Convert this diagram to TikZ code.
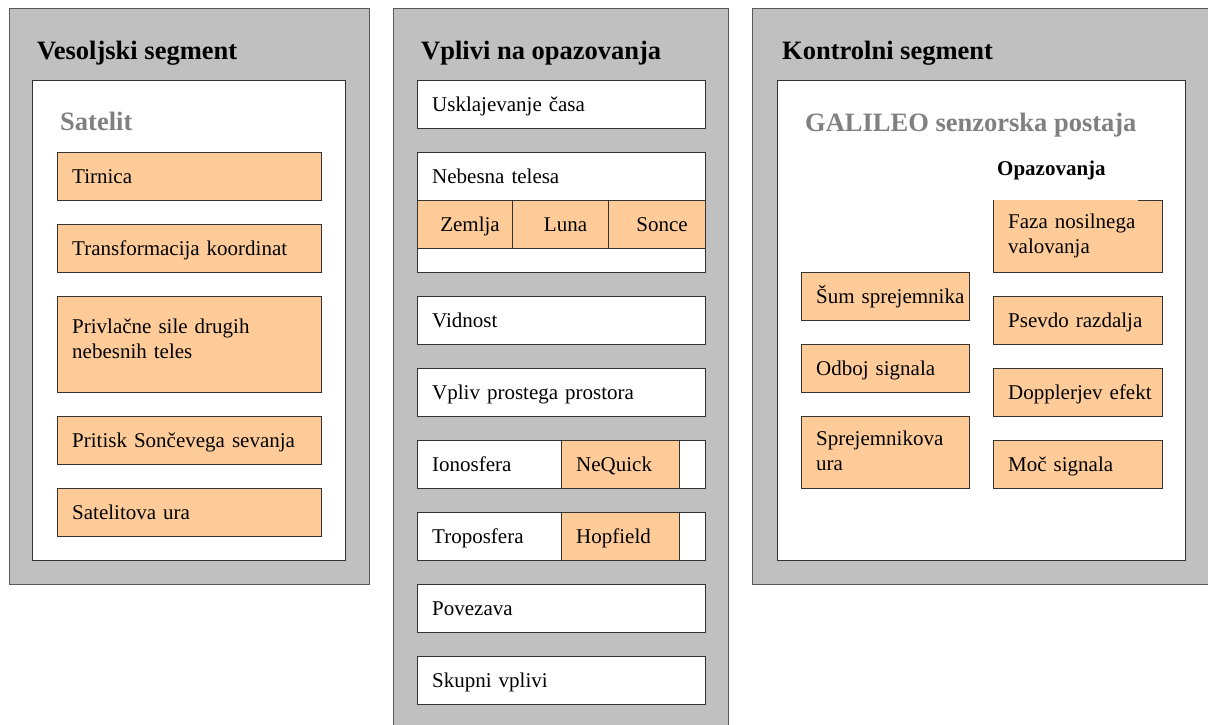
\documentclass[tikz,border=0pt]{standalone}
\usepackage{fontspec}
\setmainfont{Liberation Serif}
\usetikzlibrary{calc}
\definecolor{panelgray}{HTML}{C0C0C0}
\definecolor{boxorange}{HTML}{FFCC99}
\definecolor{satgray}{HTML}{808080}
\tikzset{
 panel/.style={draw=black!65, fill=panelgray, line width=1pt},
 whitebox/.style={draw=black!80, fill=white, line width=1pt},
 orangebox/.style={draw=black!80, fill=boxorange, line width=1pt},
 fazabox/.style={fill=boxorange},
 edge/.style={draw=black!80, line width=1pt},
 txt/.style={inner sep=0pt, font=\fontsize{21}{25}\selectfont, align=left, text width=300pt, anchor=base west},
 ctxt/.style={inner sep=0pt, font=\fontsize{21}{25}\selectfont, anchor=base},
 title/.style={inner sep=0pt, font=\fontsize{26.5}{30}\selectfont\bfseries, anchor=base west},
}
\newcommand\bx[6]{\node[#6, anchor=north west, minimum width=#4pt, minimum height=#5pt, inner sep=0pt] (#1) at (#2,#3) {};}
\newcommand\lbl[2]{\node[txt] (#1-t) at ($(#1.west)+(15,7)$) {#2};}
\newcommand\clbl[2]{\node[ctxt] (#1-t) at ($(#1.center)+(5,7)$) {#2};}
\begin{document}
\begin{tikzpicture}[x=1pt,y=-1pt]
\useasboundingbox (0,0) rectangle (1208,724);
\clip (0,0) rectangle (1208,724);
\fill[white] (0,0) rectangle (1208,724);

% left panel
\bx{lp}{9}{8}{360}{576}{panel}
\node[title] (lpt) at (37,59) {Vesoljski segment};
\bx{lw}{32}{80}{313}{480}{whitebox}
\node[title, text=satgray] (sat) at (60,130) {Satelit};
\bx{tir}{57}{152}{264}{48}{orangebox} \lbl{tir}{Tirnica}
\bx{tra}{57}{224}{264}{48}{orangebox} \lbl{tra}{Transformacija koordinat}
\bx{pri}{57}{296}{264}{96}{orangebox}
\node[txt] (pri-t) at (72,333) {Privlačne sile drugih\\nebesnih teles};
\bx{pss}{57}{416}{264}{48}{orangebox} \lbl{pss}{Pritisk Sončevega sevanja}
\bx{sur}{57}{488}{264}{48}{orangebox} \lbl{sur}{Satelitova ura}

% middle panel
\bx{mp}{393}{8}{335}{740}{panel}
\node[title] (mpt) at (421,59) {Vplivi na opazovanja};
\bx{usk}{417}{80}{288}{48}{whitebox} \lbl{usk}{Usklajevanje časa}
\bx{neb}{417}{152}{288}{120}{whitebox}
\node[txt] (neb-t) at (432,183) {Nebesna telesa};
\bx{zem}{417}{200}{95}{48}{orangebox} \clbl{zem}{Zemlja}
\bx{lun}{512}{200}{96}{48}{orangebox} \clbl{lun}{Luna}
\bx{son}{608}{200}{97}{48}{orangebox} \clbl{son}{Sonce}
\bx{vid}{417}{296}{288}{48}{whitebox} \lbl{vid}{Vidnost}
\bx{vpp}{417}{368}{288}{48}{whitebox} \lbl{vpp}{Vpliv prostega prostora}
\bx{ion}{417}{440}{288}{48}{whitebox} \lbl{ion}{Ionosfera}
\bx{neq}{561}{440}{118}{48}{orangebox} \lbl{neq}{NeQuick}
\bx{tro}{417}{512}{288}{48}{whitebox} \lbl{tro}{Troposfera}
\bx{hop}{561}{512}{118}{48}{orangebox} \lbl{hop}{Hopfield}
\bx{pov}{417}{584}{288}{48}{whitebox} \lbl{pov}{Povezava}
\bx{sku}{417}{656}{288}{48}{whitebox} \lbl{sku}{Skupni vplivi}

% right panel
\bx{rp}{752}{8}{470}{576}{panel}
\node[title] (rpt) at (782,59) {Kontrolni segment};
\bx{rw}{777}{80}{408}{480}{whitebox}
\node[title, text=satgray] (gal) at (805,131) {GALILEO senzorska postaja};
\node[title, font=\fontsize{21}{25}\selectfont\bfseries] (opa) at (997,175) {Opazovanja};
\bx{sum}{801}{272}{168}{48}{orangebox} \lbl{sum}{Šum sprejemnika}
\bx{odb}{801}{344}{168}{48}{orangebox} \lbl{odb}{Odboj signala}
\bx{spr}{801}{416}{168}{72}{orangebox}
\node[txt] (spr-t) at (816,445) {Sprejemnikova\\ura};
\bx{faz}{993}{200}{169}{72}{fazabox}
\draw[edge] ($(faz.north east)+(-24,0)$) -- (faz.north east) -- (faz.south east) -- (faz.south west) -- (faz.north west);
\node[txt] (faz-t) at (1008,228) {Faza nosilnega\\valovanja};
\bx{psv}{993}{296}{169}{48}{orangebox} \lbl{psv}{Psevdo razdalja}
\bx{dop}{993}{368}{169}{48}{orangebox} \lbl{dop}{Dopplerjev efekt}
\bx{moc}{993}{440}{169}{48}{orangebox} \lbl{moc}{Moč signala}
\end{tikzpicture}
\end{document}
